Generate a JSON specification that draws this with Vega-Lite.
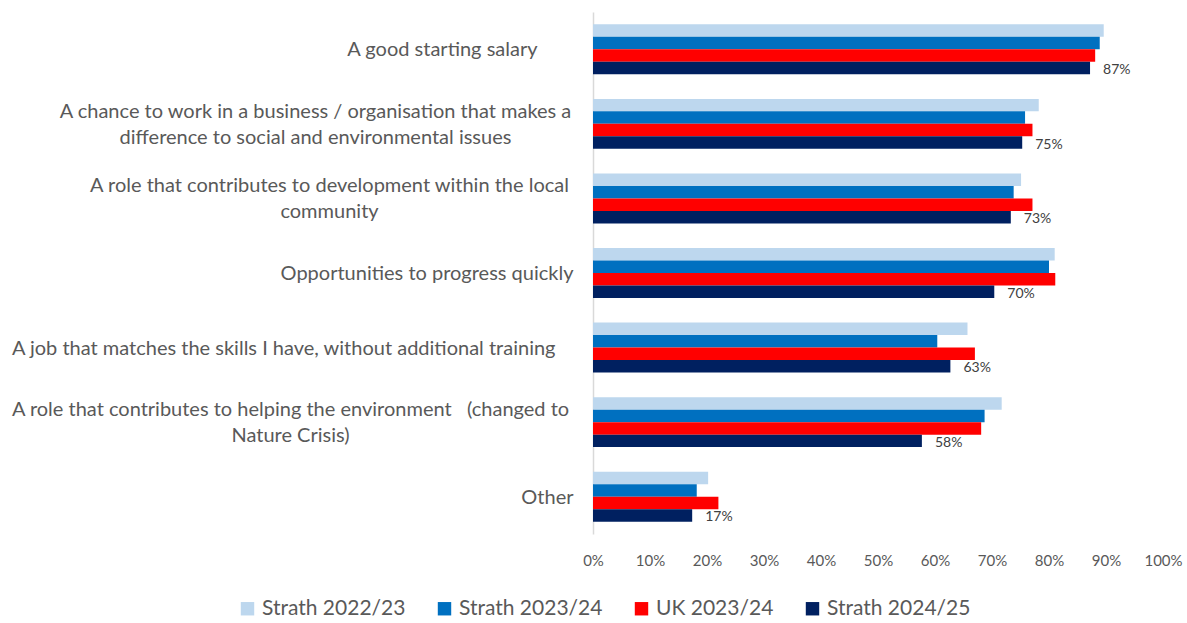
{
  "$schema": "https://vega.github.io/schema/vega-lite/v6.json",
  "autosize": {"type": "none"},
  "width": 570,
  "height": 522,
  "padding": {"left": 593, "top": 12, "right": 24, "bottom": 89},
  "background": "white",
  "config": {
    "view": {"stroke": null},
    "font": "Lato",
    "axis": {"labelFont": "Lato", "labelColor": "#595959"},
    "legend": {"labelFont": "Lato"}
  },
  "data": {
    "values": [
      {"category": "A good starting salary", "series": "Strath 2022/23", "value": 0.896},
      {"category": "A good starting salary", "series": "Strath 2023/24", "value": 0.889},
      {"category": "A good starting salary", "series": "UK 2023/24", "value": 0.881},
      {"category": "A good starting salary", "series": "Strath 2024/25", "value": 0.872},
      {"category": "A chance to work in a business / organisation that makes a difference to social and environmental issues", "series": "Strath 2022/23", "value": 0.782},
      {"category": "A chance to work in a business / organisation that makes a difference to social and environmental issues", "series": "Strath 2023/24", "value": 0.758},
      {"category": "A chance to work in a business / organisation that makes a difference to social and environmental issues", "series": "UK 2023/24", "value": 0.771},
      {"category": "A chance to work in a business / organisation that makes a difference to social and environmental issues", "series": "Strath 2024/25", "value": 0.753},
      {"category": "A role that contributes to development within the local community", "series": "Strath 2022/23", "value": 0.751},
      {"category": "A role that contributes to development within the local community", "series": "Strath 2023/24", "value": 0.738},
      {"category": "A role that contributes to development within the local community", "series": "UK 2023/24", "value": 0.771},
      {"category": "A role that contributes to development within the local community", "series": "Strath 2024/25", "value": 0.733},
      {"category": "Opportunities to progress quickly", "series": "Strath 2022/23", "value": 0.81},
      {"category": "Opportunities to progress quickly", "series": "Strath 2023/24", "value": 0.8},
      {"category": "Opportunities to progress quickly", "series": "UK 2023/24", "value": 0.811},
      {"category": "Opportunities to progress quickly", "series": "Strath 2024/25", "value": 0.704},
      {"category": "A job that matches the skills I have, without additional training", "series": "Strath 2022/23", "value": 0.657},
      {"category": "A job that matches the skills I have, without additional training", "series": "Strath 2023/24", "value": 0.604},
      {"category": "A job that matches the skills I have, without additional training", "series": "UK 2023/24", "value": 0.67},
      {"category": "A job that matches the skills I have, without additional training", "series": "Strath 2024/25", "value": 0.627},
      {"category": "A role that contributes to helping the environment (changed to Nature Crisis)", "series": "Strath 2022/23", "value": 0.717},
      {"category": "A role that contributes to helping the environment (changed to Nature Crisis)", "series": "Strath 2023/24", "value": 0.687},
      {"category": "A role that contributes to helping the environment (changed to Nature Crisis)", "series": "UK 2023/24", "value": 0.681},
      {"category": "A role that contributes to helping the environment (changed to Nature Crisis)", "series": "Strath 2024/25", "value": 0.577},
      {"category": "Other", "series": "Strath 2022/23", "value": 0.202},
      {"category": "Other", "series": "Strath 2023/24", "value": 0.182},
      {"category": "Other", "series": "UK 2023/24", "value": 0.22},
      {"category": "Other", "series": "Strath 2024/25", "value": 0.174}
    ]
  },
  "encoding": {
    "y": {
      "field": "category",
      "type": "nominal",
      "sort": null,
      "scale": {"paddingInner": 0.33, "paddingOuter": 0.165},
      "axis": {
        "title": null,
        "domainColor": "#D9D9D9",
        "domainWidth": 1.5,
        "ticks": false,
        "labelFontSize": 20,
        "labelLimit": 600,
        "labelLineHeight": 26,
        "labelAlign": {"condition": {"test": "datum.value == 'A chance to work in a business / organisation that makes a difference to social and environmental issues' || datum.value == 'A role that contributes to development within the local community' || datum.value == 'A role that contributes to helping the environment (changed to Nature Crisis)'", "value": "center"}, "value": "right"},
        "labelPadding": {"condition": [
          {"test": "datum.value == 'A chance to work in a business / organisation that makes a difference to social and environmental issues'", "value": 278},
          {"test": "datum.value == 'A role that contributes to development within the local community'", "value": 264},
          {"test": "datum.value == 'A role that contributes to helping the environment (changed to Nature Crisis)'", "value": 303},
          {"test": "datum.value == 'A good starting salary'", "value": 56},
          {"test": "datum.value == 'A job that matches the skills I have, without additional training'", "value": 38}
        ], "value": 20},
        "labelOffset": {"condition": {"test": "datum.value == 'A chance to work in a business / organisation that makes a difference to social and environmental issues' || datum.value == 'A role that contributes to development within the local community' || datum.value == 'A role that contributes to helping the environment (changed to Nature Crisis)'", "value": -12}, "value": 1},
        "labelExpr": "datum.value == 'A chance to work in a business / organisation that makes a difference to social and environmental issues' ? ['A chance to work in a business / organisation that makes a', 'difference to social and environmental issues'] : datum.value == 'A role that contributes to development within the local community' ? ['A role that contributes to development within the local', 'community'] : datum.value == 'A role that contributes to helping the environment (changed to Nature Crisis)' ? ['A role that contributes to helping the environment \u00a0 (changed to', 'Nature Crisis)'] : datum.value"
      }
    },
    "yOffset": {
      "field": "series",
      "type": "nominal",
      "sort": ["Strath 2022/23", "Strath 2023/24", "UK 2023/24", "Strath 2024/25"],
      "scale": {"paddingInner": 0, "paddingOuter": 0}
    },
    "x": {
      "field": "value",
      "type": "quantitative",
      "scale": {"domain": [0, 1]},
      "axis": {
        "title": null,
        "format": ".0%",
        "values": [0, 0.1, 0.2, 0.3, 0.4, 0.5, 0.6, 0.7, 0.8, 0.9, 1],
        "grid": false,
        "domain": false,
        "ticks": false,
        "labelFlush": false,
        "labelOverlap": false,
        "labelFontSize": 15,
        "labelPadding": 19
      }
    }
  },
  "layer": [
    {
      "mark": {"type": "bar"},
      "encoding": {
        "color": {
          "field": "series",
          "type": "nominal",
          "sort": ["Strath 2022/23", "Strath 2023/24", "UK 2023/24", "Strath 2024/25"],
          "scale": {
            "domain": ["Strath 2022/23", "Strath 2023/24", "UK 2023/24", "Strath 2024/25"],
            "range": ["#BDD7EE", "#0070C0", "#FF0000", "#002060"]
          },
          "legend": {
            "title": null,
            "orient": "none",
            "direction": "horizontal",
            "legendX": -356,
            "legendY": 586,
            "symbolType": "square",
            "symbolSize": 180,
            "symbolStrokeWidth": 0,
            "labelFontSize": 21,
            "labelColor": "#595959",
            "labelOffset": 4,
            "columnPadding": 28,
            "labelLimit": 300
          }
        }
      }
    },
    {
      "transform": [{"filter": "datum.series == 'Strath 2024/25'"}],
      "mark": {"type": "text", "align": "left", "baseline": "middle", "dx": 13, "dy": 2, "fontSize": 14, "color": "#404040"},
      "encoding": {
        "text": {"field": "value", "type": "quantitative", "format": ".0%"}
      }
    }
  ]
}
